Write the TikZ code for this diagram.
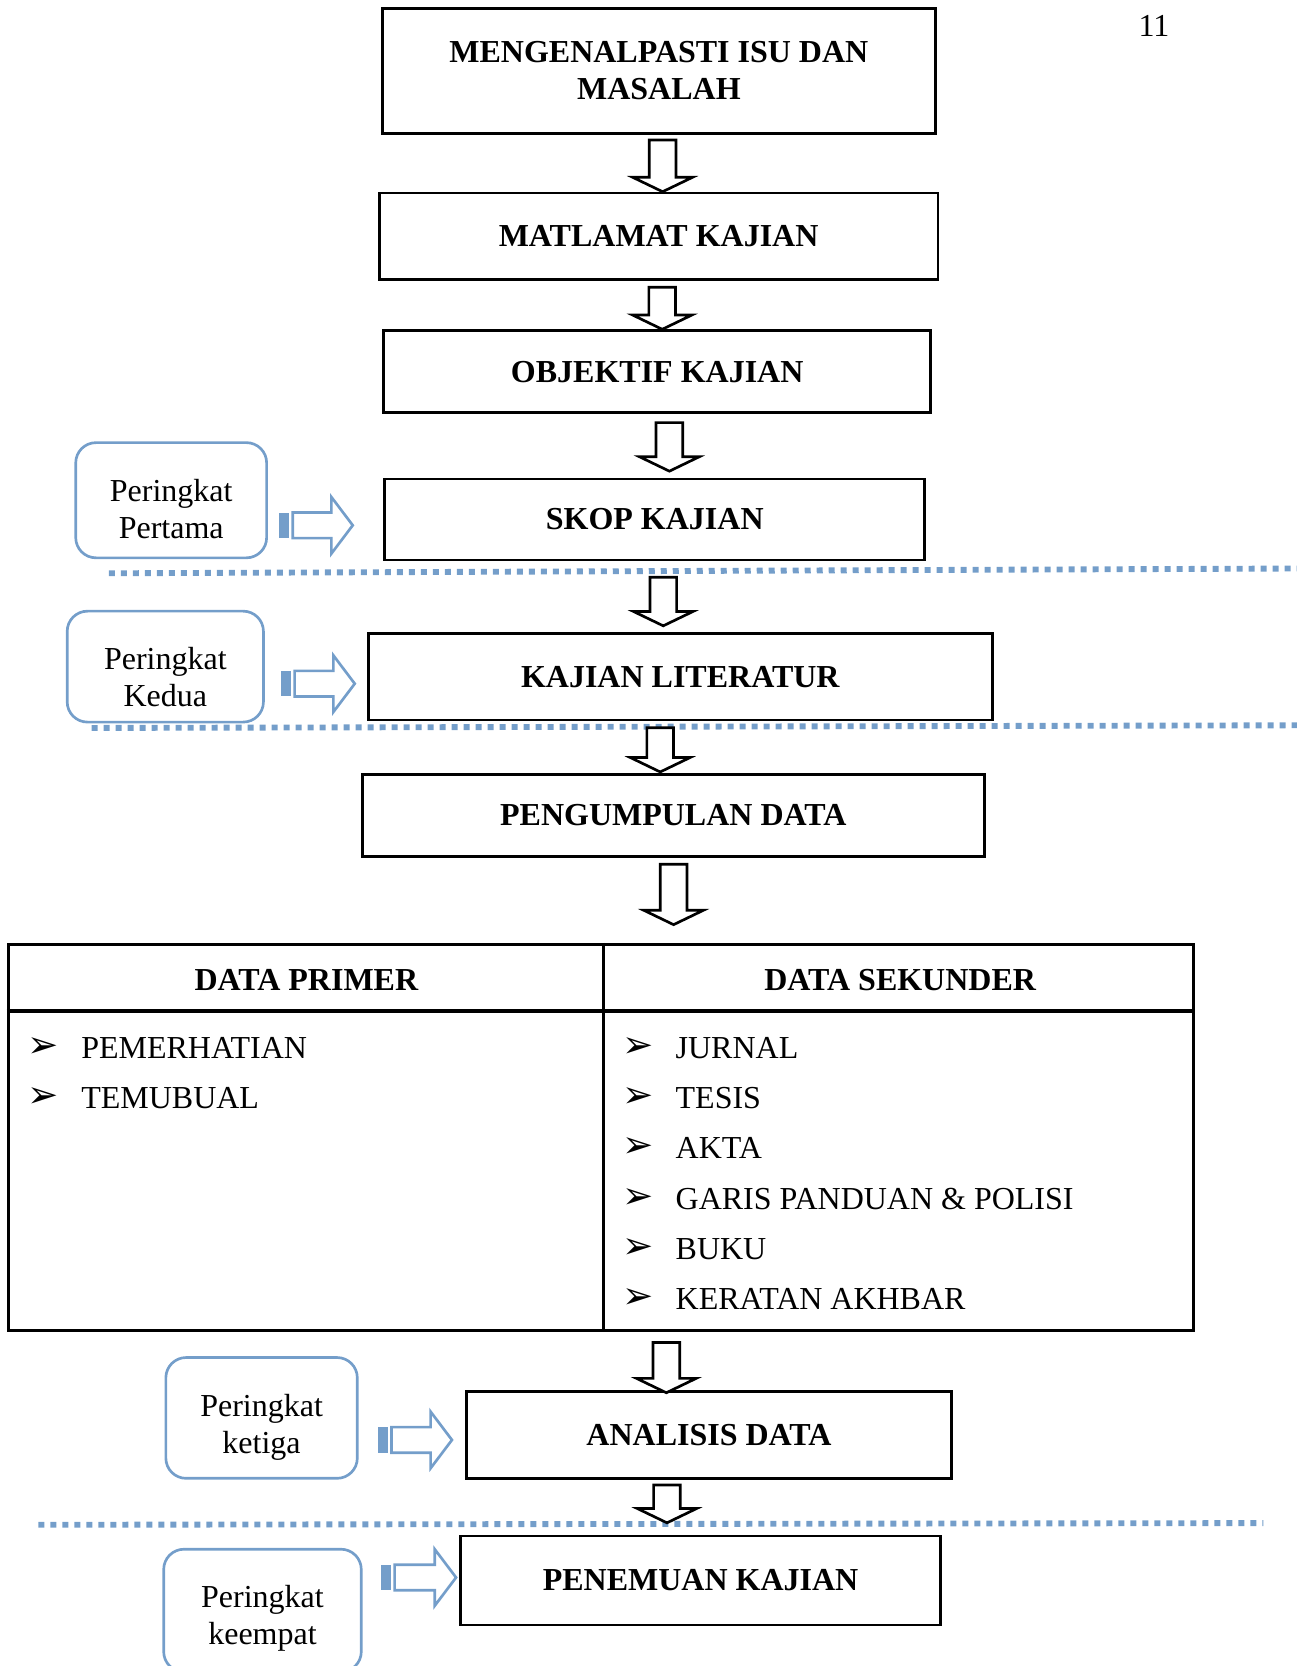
\documentclass[tikz,border=0pt]{standalone}
\usepackage{fontspec}
\setmainfont{Liberation Serif}
\newfontfamily\dejavu{DejaVu Sans}
\usepackage{tikz}
\usetikzlibrary{positioning, calc}
\definecolor{biru}{RGB}{116,158,202}
\tikzset{
  kotak/.style={draw, line width=1pt, align=center, inner sep=0pt,
    font=\bfseries\fontsize{12pt}{14pt}\selectfont},
  tahap/.style={draw=biru, line width=1pt, rounded corners=7.6pt},
  tahapteks/.style={align=center, inner sep=0pt, font=\fontsize{12pt}{13.8pt}\selectfont},
  titik/.style={draw=biru, line width=2.2pt, dash pattern=on 2.25pt off 2.25pt},
  kepala/.style={inner sep=0pt, font=\bfseries\fontsize{12pt}{14pt}\selectfont},
  senarai/.style={anchor=base west, inner sep=0pt, font=\fontsize{12pt}{14pt}\selectfont}
}
% hollow block arrows
\newcommand{\panahbawah}[2]{%
  \draw[line width=1pt, fill=white] let \p1=#1, \p2=#2 in
    (\x2-5pt,\y1) -- (\x2-5pt,\y2+5.4pt) -- (\x2-11.2pt,\y2+5.4pt) -- (\x2,\y2)
    -- (\x2+11.2pt,\y2+5.4pt) -- (\x2+5pt,\y2+5.4pt) -- (\x2+5pt,\y1) -- cycle;}
\newcommand{\panahbiru}[2]{%
  \fill[biru] let \p1=#1, \p2=#2 in (\x1,\y2-4.8pt) rectangle (\x1+3.8pt,\y2+4.8pt);
  \draw[biru, line width=1pt, fill=white] let \p1=#1, \p2=#2 in
    (\x1+5.2pt,\y2-4.8pt) -- (\x2-8pt,\y2-4.8pt) -- (\x2-8pt,\y2-10.6pt) -- (\x2,\y2)
    -- (\x2-8pt,\y2+10.6pt) -- (\x2-8pt,\y2+4.8pt) -- (\x1+5.2pt,\y2+4.8pt) -- cycle;}
\newcommand{\peluru}{\makebox[20pt][l]{\raisebox{0.3pt}{\dejavu\fontsize{14pt}{14pt}\selectfont ➢}}}

\begin{document}
\begin{tikzpicture}[x=0.4pt, y=-0.4pt]
  \useasboundingbox (0,0) rectangle (1216,1562);
  \node[anchor=base, inner sep=0pt, font=\fontsize{12pt}{14pt}\selectfont] (hal) at (1082,34.3) {11};

  % garis pemisah peringkat
  \draw[titik] (102,537.5) -- (1216,533);
  \draw[titik] (86,682.5) -- (1216,680);
  \draw[titik] (36,1429.6) -- (1184.6,1428);

  \node[kotak, minimum width=207.4pt, minimum height=46.9pt] (isu) at (617.75,66.4) {MENGENALPASTI ISU DAN\\MASALAH};
  \node[kotak, minimum width=209.5pt, minimum height=32.4pt] (matlamat) at (617.5,221.5) {MATLAMAT KAJIAN};
  \node[kotak, minimum width=205.2pt, minimum height=30.8pt] (objektif) at (616.15,348.5) {OBJEKTIF KAJIAN};
  \node[kotak, minimum width=202.5pt, minimum height=30.4pt] (skop) at (613.85,487) {SKOP KAJIAN};
  \node[kotak, minimum width=234pt, minimum height=32.4pt] (literatur) at (637.85,634.5) {KAJIAN LITERATUR};
  \node[kotak, minimum width=233.2pt, minimum height=30.8pt] (pengumpulan) at (631.25,764.5) {PENGUMPULAN DATA};
  \node[kotak, minimum width=181.8pt, minimum height=32.6pt] (analisis) at (664.75,1345.3) {ANALISIS DATA};
  \node[kotak, minimum width=180pt, minimum height=33.4pt] (penemuan) at (656.85,1481.75) {PENEMUAN KAJIAN};

  % jadual data
  \node[draw, line width=1.3pt, minimum width=444.4pt, minimum height=144.8pt, inner sep=0pt] (tabel) at (563.3,1066.55) {};
  \coordinate (garis) at (0,948);
  \coordinate (kolom) at (566,0);
  \draw[line width=1.3pt] (tabel.west |- garis) -- (tabel.east |- garis);
  \draw[line width=0.9pt] (tabel.north -| kolom) -- (tabel.south -| kolom);
  \node[kepala] (primer) at (287.25,919) {DATA PRIMER};
  \node[kepala] (sekunder) at (844,919) {DATA SEKUNDER};
  \node[senarai] (pemerhatian) at (25.7,992) {\peluru PEMERHATIAN};
  \node[senarai] (temubual) at (25.7,1039.2) {\peluru TEMUBUAL};
  \node[senarai] (jurnal) at (583,992) {\peluru JURNAL};
  \node[senarai] (tesis) at (583,1039.2) {\peluru TESIS};
  \node[senarai] (akta) at (583,1086.4) {\peluru AKTA};
  \node[senarai] (garis) at (583,1133.6) {\peluru GARIS PANDUAN \& POLISI};
  \node[senarai] (buku) at (583,1180.8) {\peluru BUKU};
  \node[senarai] (keratan) at (583,1228) {\peluru KERATAN AKHBAR};

  % peringkat
  \node[tahap, minimum width=71.6pt, minimum height=43.2pt] (p1) at (160.5,469) {};
  \node[tahapteks, below=14pt of p1.north] (p1t) {Peringkat\\Pertama};
  \node[tahap, minimum width=73.6pt, minimum height=41.6pt] (p2) at (155,625) {};
  \node[tahapteks, below=14pt of p2.north] (p2t) {Peringkat\\Kedua};
  \node[tahap, minimum width=71.8pt, minimum height=45.3pt] (p3) at (245.25,1329.4) {};
  \node[tahapteks, below=14pt of p3.north] (p3t) {Peringkat\\ketiga};
  \node[tahap, minimum width=74.1pt, minimum height=46pt] (p4) at (246.1,1510) {};
  \node[tahapteks, below=14pt of p4.north] (p4t) {Peringkat\\keempat};

  \panahbawah{([yshift=-2pt]isu.south)}{([xshift=1.5pt]matlamat.north)}
  \panahbawah{([yshift=-2.4pt]matlamat.south)}{([xshift=1.9pt]objektif.north)}
  \panahbawah{([yshift=-3.2pt]objektif.south)}{([xshift=5.5pt,yshift=2.4pt]skop.north)}
  \panahbawah{([yshift=-6pt]skop.south)}{([xshift=-6.4pt,yshift=2.4pt]literatur.north)}
  \panahbawah{([yshift=-2.4pt]literatur.south)}{([xshift=-4.9pt,yshift=0.4pt]pengumpulan.north)}
  \panahbawah{([yshift=-2.4pt]pengumpulan.south)}{([xshift=27.3pt,yshift=6.8pt]tabel.north)}
  \panahbawah{([yshift=-3.8pt]tabel.south)}{([xshift=-16pt,yshift=-1pt]analisis.north)}
  \panahbawah{([yshift=-2pt]analisis.south)}{([xshift=-12.6pt,yshift=4.4pt]penemuan.north)}

  \panahbiru{([xshift=4.1pt]p1.east)}{([xshift=-11.5pt,yshift=-2.2pt]skop.west)}
  \panahbiru{([xshift=6pt]p2.east)}{([xshift=-4.6pt,yshift=-2.6pt]literatur.west)}
  \panahbiru{([xshift=7.1pt]p3.east)}{([xshift=-5pt,yshift=-1.9pt]analisis.west)}
  \panahbiru{([xshift=6.8pt]p4.east)}{([xshift=-1.2pt,yshift=1.1pt]penemuan.west)}
\end{tikzpicture}
\end{document}
